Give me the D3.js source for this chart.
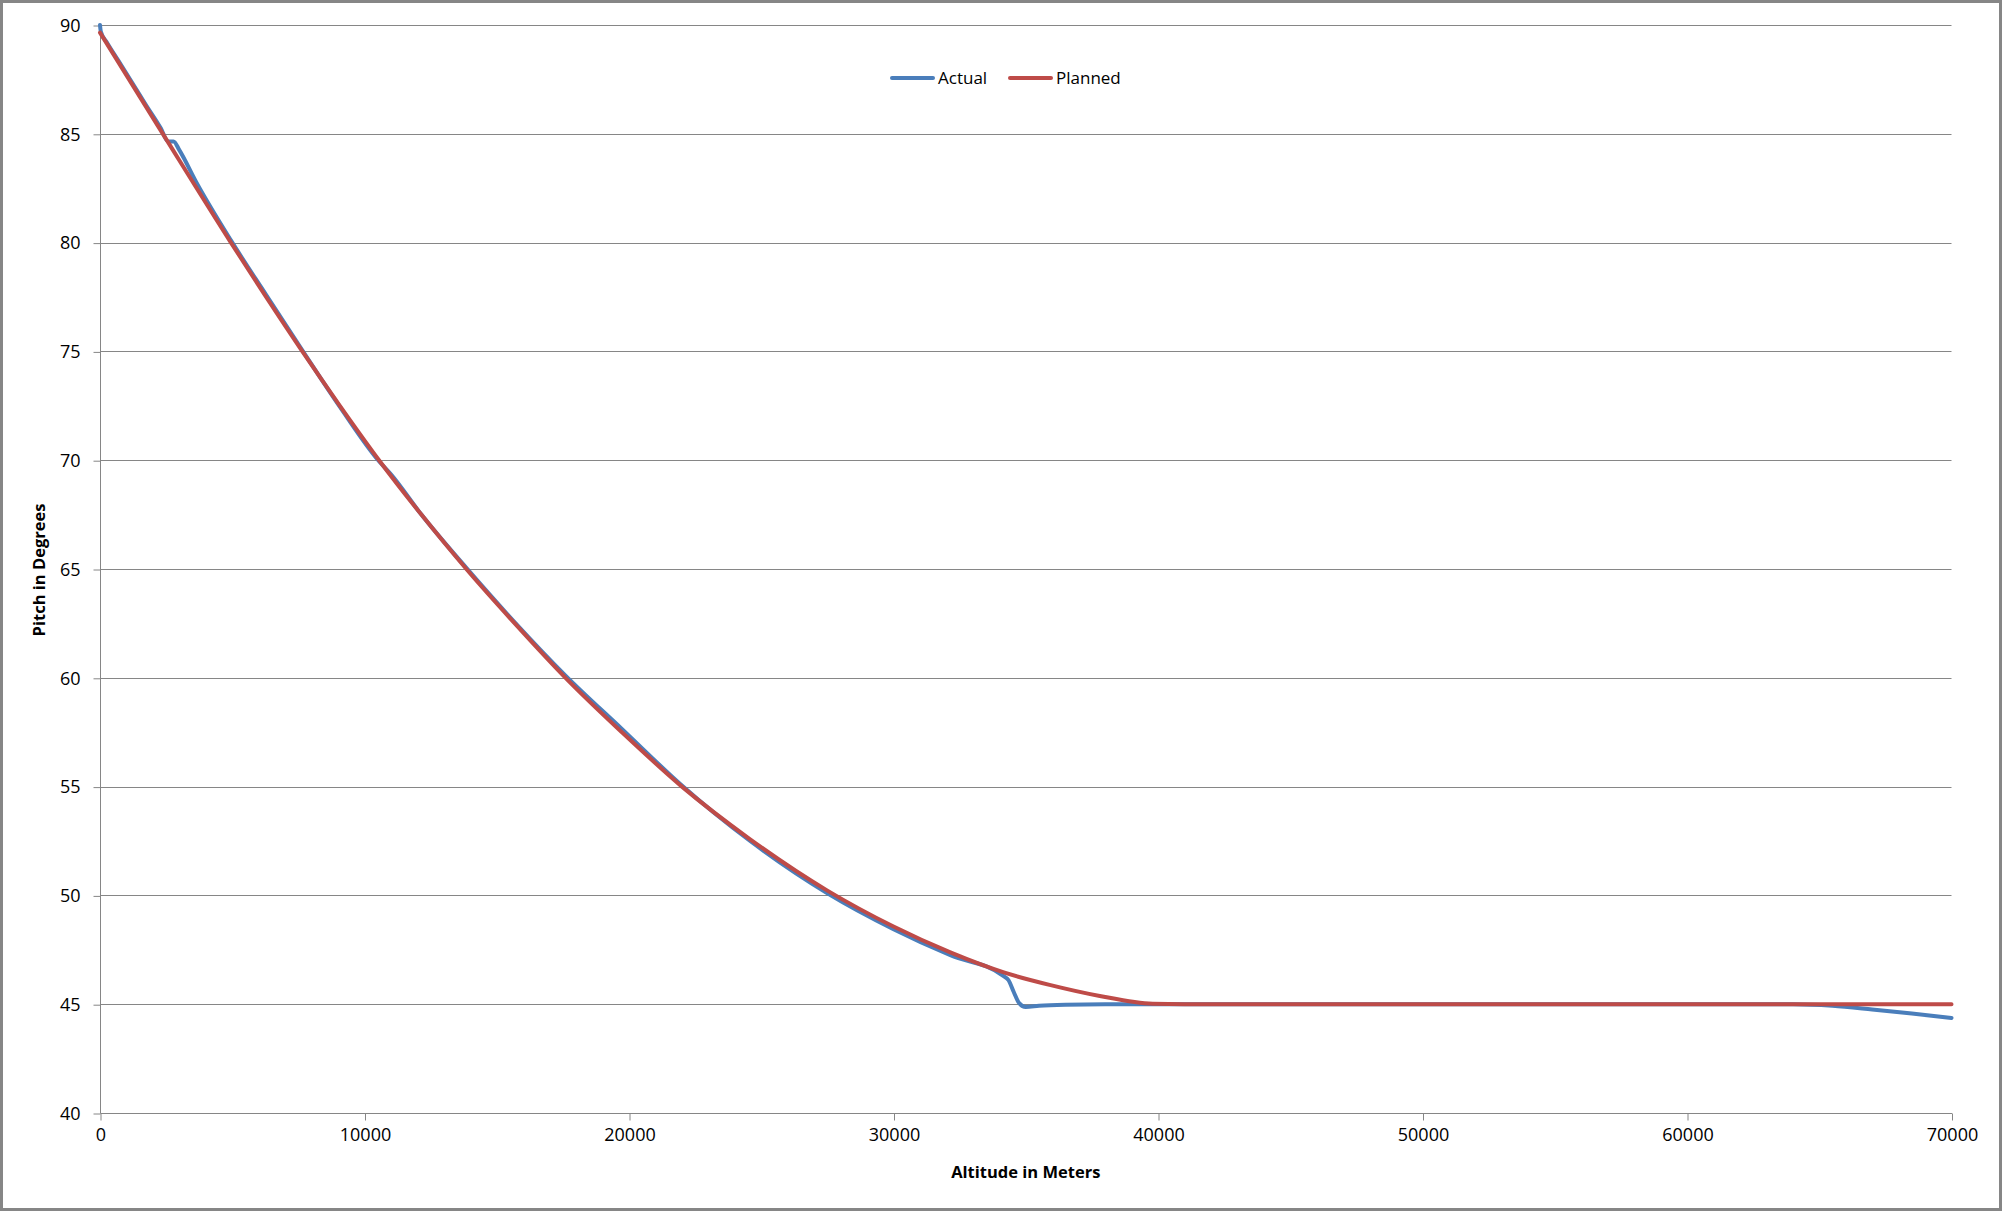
<!DOCTYPE html>
<html><head><meta charset="utf-8">
<script src="https://cdn.jsdelivr.net/npm/d3@7/dist/d3.min.js"></script>
<style>body{margin:0;background:#fff}svg{display:block}text{font-family:"Open Sans","Noto Sans",sans-serif}</style>
</head><body>
<script>
const plannedAlt = [0,2400,4950,6280,7650,9070,10550,12150,13850,15680,17600,19730,22000,24580,27500,30000,32150,34200,35900,37800,39800,41000,45000,50000,55000,60000,65000,70000];
const plannedPitch = [89.65,84.95,80.0,77.5,75.0,72.5,70.0,67.5,65.0,62.5,60.0,57.5,55.0,52.58,50.22,48.57,47.38,46.45,45.89,45.38,45.02,45.0,45,45,45,45,45,45];
const actualAlt = [0,30,250,700,1200,1750,2300,2570,2780,3000,3650,4950,6280,7650,9070,10550,11000,12150,13850,15680,17600,19730,22000,24580,27500,30000,32150,34150,34350,34550,34750,35000,35500,36500,38000,40000,45000,50000,55000,60000,64000,65500,67000,68500,70000];
const actualPitch = [90.0,89.7,89.22,88.35,87.38,86.3,85.25,84.65,84.65,84.25,82.75,80.1,77.6,75.05,72.45,69.95,69.35,67.5,65.05,62.55,60.1,57.65,55.05,52.5,50.1,48.45,47.25,46.3,46.1,45.55,45.05,44.87,44.93,44.98,45.0,45.0,45.0,45.0,45.0,45.0,45.0,44.93,44.76,44.57,44.37];
const xTicks = [0,10000,20000,30000,40000,50000,60000,70000];
const yTicks = [40,45,50,55,60,65,70,75,80,85,90];
const seriesNames = ["Actual","Planned"];
const seriesColors = ["#4A7EBB","#BE4B48"];

const W = 2003, H = 1212;
const L = 100, R = 1951.5, T = 25, B = 1113;
const svg = d3.select("body").append("svg").attr("width", W).attr("height", H);
svg.append("rect").attr("x",1.5).attr("y",1.5).attr("width",1999).attr("height",1208)
  .attr("fill","#fff").attr("stroke","#868686").attr("stroke-width",3);

const x = d3.scaleLinear().domain([0,70000]).range([L,R]);
const y = d3.scaleLinear().domain([40,90]).range([B,T]);
const grid = "#868686";

svg.append("g").selectAll("line").data(yTicks.filter(d=>d>40)).join("line")
  .attr("x1",L).attr("x2",R).attr("y1",d=>Math.round(y(d))+0.5).attr("y2",d=>Math.round(y(d))+0.5)
  .attr("stroke",grid).attr("stroke-width",1);

const yAxis = d3.axisLeft(y).tickValues(yTicks).tickSize(7).tickPadding(13).tickFormat(d3.format("d"));
const gy = svg.append("g").attr("transform",`translate(${L+0.5},0.5)`).call(yAxis);
gy.select(".domain").attr("stroke",grid).attr("d",`M0,${T}V${B}`);
gy.selectAll(".tick line").attr("stroke",grid);
gy.selectAll(".tick text").attr("font-size",18).attr("fill","#000");

const xAxis = d3.axisBottom(x).tickValues(xTicks).tickSize(7).tickPadding(8).tickFormat(d3.format("d"));
const gx = svg.append("g").attr("transform",`translate(0.5,${B+0.5})`).call(xAxis);
gx.select(".domain").attr("stroke",grid).attr("d",`M${L},0H${R}`);
gx.selectAll(".tick line").attr("stroke",grid);
gx.selectAll(".tick text").attr("font-size",18).attr("fill","#000");

svg.append("text").attr("x",(L+R)/2).attr("y",1178).attr("text-anchor","middle")
  .attr("font-size",16.5).attr("font-weight","bold").text("Altitude in Meters");
svg.append("text").attr("transform","translate(45,570) rotate(-90)").attr("text-anchor","middle")
  .attr("font-size",16.5).attr("font-weight","bold").text("Pitch in Degrees");

const line = d3.line().x(d=>x(d[0])).y(d=>y(d[1])).curve(d3.curveMonotoneX);
const actual = actualAlt.map((a,i)=>[a,actualPitch[i]]);
const planned = plannedAlt.map((a,i)=>[a,plannedPitch[i]]);
svg.append("path").datum(actual).attr("d",line).attr("fill","none")
  .attr("stroke",seriesColors[0]).attr("stroke-width",4).attr("stroke-linejoin","round").attr("stroke-linecap","round");
svg.append("path").datum(planned).attr("d",line).attr("fill","none")
  .attr("stroke",seriesColors[1]).attr("stroke-width",4).attr("stroke-linejoin","round").attr("stroke-linecap","round");

const legX = [892, 1010];
seriesNames.forEach((n,i)=>{
  svg.append("line").attr("x1",legX[i]).attr("x2",legX[i]+41).attr("y1",78).attr("y2",78)
    .attr("stroke",seriesColors[i]).attr("stroke-width",4).attr("stroke-linecap","round");
  svg.append("text").attr("x",legX[i]+46).attr("y",78).attr("dy","0.35em")
    .attr("font-size",17).attr("fill","#000").text(n);
});
</script>
</body></html>
